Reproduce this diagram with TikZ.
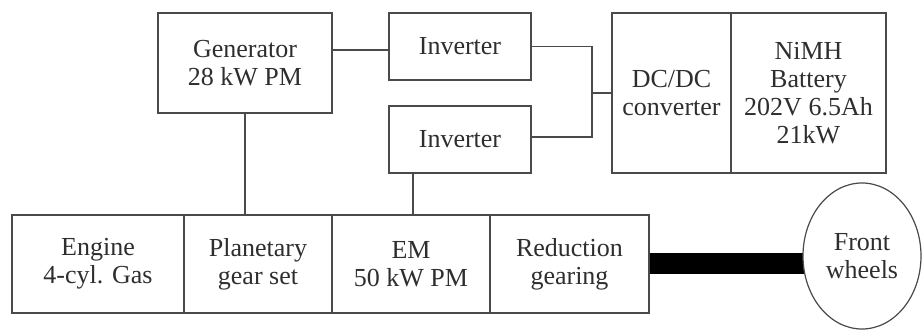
\documentclass[tikz,border=0pt]{standalone}
\usepackage{fontspec}
\setmainfont{Liberation Serif}
\usetikzlibrary{shapes.geometric,backgrounds}
\definecolor{linegray}{HTML}{4A4A4A}
\definecolor{textgray}{HTML}{2E2E2E}
\begin{document}
\begin{tikzpicture}[x=1pt,y=-1pt,
  box/.style={draw=linegray, line width=1.2pt, rectangle, inner sep=0pt, align=center,
    text=textgray, font=\fontsize{26pt}{28pt}\selectfont},
  wheelnode/.style={ellipse, draw=linegray, line width=1.2pt, fill=white, inner sep=0pt,
    align=center, text=textgray, font=\fontsize{26pt}{28pt}\selectfont},
  wire/.style={draw=linegray, line width=1.2pt}]
\useasboundingbox (0,0) rectangle (922,331);
% top row
\node[box, minimum width=174pt, minimum height=100pt] (gen) at (245,63) {Generator\\28 kW PM};
\node[box, minimum width=142pt, minimum height=67pt] (inv1) at (460,46.5) {Inverter};
\node[box, minimum width=142pt, minimum height=67pt] (inv2) at (460,139.5) {Inverter};
\node[box, minimum width=119pt, minimum height=160pt] (dcdc) at (671.5,93) {DC/DC\\converter};
\node[box, minimum width=155pt, minimum height=160pt] (batt) at (808.5,93) {NiMH\\Battery\\202V 6.5Ah\\21kW};
% bottom row
\node[box, minimum width=172pt, minimum height=98pt] (eng) at (98,264) {Engine\\4-cyl. Gas};
\node[box, minimum width=148pt, minimum height=98pt] (plan) at (258,264) {Planetary\\gear set};
\node[box, minimum width=158pt, minimum height=98pt] (em) at (411,264) {EM\\50 kW PM};
\node[box, minimum width=159pt, minimum height=98pt] (red) at (569.5,264) {Reduction\\gearing};
\node[wheelnode, minimum width=118pt, minimum height=146pt] (wheel) at (862,256) {Front\\wheels};
% connectors
\coordinate (bus) at (592,93);
\draw[wire] ([yshift=-3.5pt]inv1.west) -- ([yshift=-3.5pt]inv1.west -| gen.east);
\draw[wire] (inv1.east) -| ([yshift=2.5pt]inv2.east -| bus) -- ([yshift=2.5pt]inv2.east);
\draw[wire] (dcdc.west) -- (dcdc.west -| bus);
\draw[wire] (gen.south) -- (gen.south |- plan.north);
\draw[wire] ([xshift=2pt]em.north) -- ([xshift=2pt]em.north |- inv2.south);
\begin{scope}[on background layer]
\draw[line width=21pt, black] (red.east) -- (red.east -| wheel.center);
\end{scope}
\end{tikzpicture}
\end{document}
